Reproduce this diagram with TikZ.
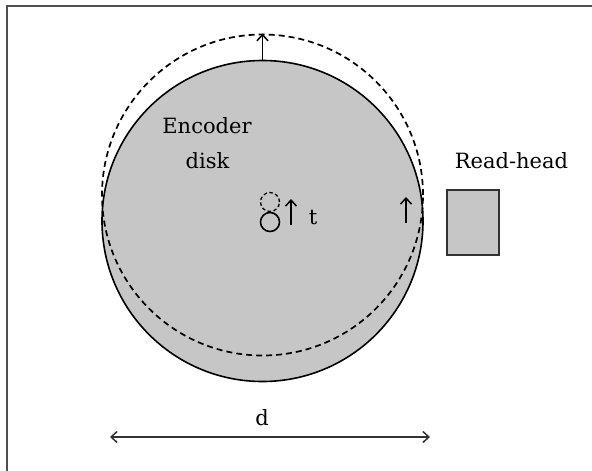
\documentclass[tikz,border=0pt]{standalone}
\usepackage{fontspec}
\setmainfont{DejaVu Serif}
\usetikzlibrary{arrows.meta}
\definecolor{diskgray}{RGB}{198,198,198}
\definecolor{framegray}{RGB}{80,80,80}
\definecolor{edgegray}{RGB}{50,50,50}
\tikzset{
  barb/.style={-{Straight Barb[length=6pt,width=11pt,line width=1.5pt]}, line width=1.5pt},
  dimline/.style={{Straight Barb[length=6pt,width=11pt,line width=1.5pt]}-{Straight Barb[length=6pt,width=11pt,line width=1.5pt]}, line width=1.5pt, edgegray},
  lbl/.style={font=\fontsize{21}{26}\selectfont, inner sep=0pt, anchor=base},
  wheel/.style={circle, draw=black, line width=1.6pt, inner sep=0pt},
  ghost/.style={circle, draw=black, dashed, dash pattern=on 6pt off 4pt, line width=1.7pt, inner sep=0pt},
}
\begin{document}
\begin{tikzpicture}[x=1pt,y=-1pt]
  \useasboundingbox (0,0) rectangle (592,471);
  % open frame: left and top edges
  \draw[framegray, line width=2pt] (6.5,471) -- (6.5,6) -- (592,6);

  % encoder disk and its displaced outline
  \node[wheel, fill=diskgray, minimum size=321pt] (disk) at (262.5,221) {};
  \node[ghost, minimum size=321pt] (moved) at (262.5,195) {};
  \draw[barb] (disk.north) -- (moved.north);

  % hub and displaced hub
  \node[wheel, minimum size=19pt] (hub) at (270,222) {};
  \node[ghost, dash pattern=on 3.5pt off 2.5pt, line width=1.3pt, minimum size=19pt] (hubmoved) at (270,202) {};
  \coordinate (ta) at (291,225);
  \coordinate (tb) at (291,199);
  \draw[barb] (ta) -- (tb);
  \node[lbl] (t) at (313,224) {t};

  % displacement marker near the rim
  \coordinate (ra) at (406,223);
  \coordinate (rb) at (406,197);
  \draw[barb] (ra) -- (rb);

  % labels
  \node[lbl] (enc) at (207,133) {Encoder};
  \node[lbl] (dsk) at (207.5,168) {disk};

  % read-head
  \node[draw=edgegray, fill=diskgray, line width=2pt, minimum width=52pt, minimum height=65pt, inner sep=0pt] (head) at (473,222.5) {};
  \node[lbl] (headlbl) at (511.5,168) {Read-head};

  % diameter
  \coordinate (dl) at (110,437);
  \coordinate (dr) at (430,437);
  \draw[dimline] (dl) -- (dr);
  \node[lbl] (dlbl) at (262,425) {d};
\end{tikzpicture}
\end{document}
